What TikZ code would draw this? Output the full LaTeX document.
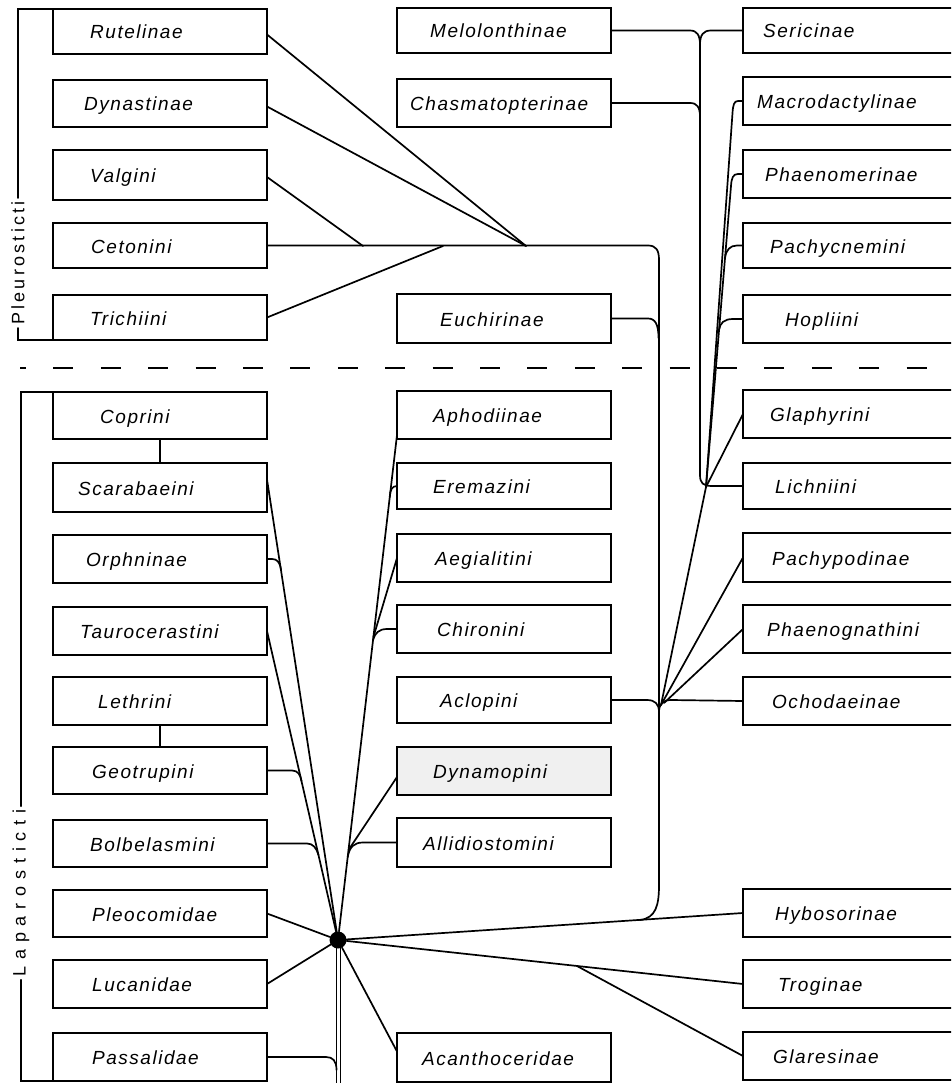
\documentclass[tikz,border=0pt]{standalone}
\usepackage{fontspec}
\usetikzlibrary{fit}
\newfontfamily\lblfont[LetterSpace=8]{Liberation Sans}
\newfontfamily\sidefont[LetterSpace=18]{Liberation Sans}
\newfontfamily\sidefontb[LetterSpace=38]{Liberation Sans}
\tikzset{
  box/.style={draw, line width=2.1pt, rectangle, inner sep=0pt, outer sep=0pt},
  lbl/.style={font=\lblfont\itshape\fontsize{19}{22}\selectfont, inner sep=0pt, anchor=base west},
  sidelbl/.style={font=\sidefont\fontsize{18}{20}\selectfont, inner sep=3pt},
  sidelblb/.style={font=\sidefontb\fontsize{18}{20}\selectfont, inner sep=3pt},
  conn/.style={line width=1.7pt, line cap=round},
  dot/.style={circle, fill=black, inner sep=0pt, minimum size=17pt},
  sepline/.style={line width=2pt, dash pattern=on 20pt off 27.4pt, dash phase=14pt}
}
\newcommand\taxbox[8]{%
  \node[box,#1, fit={(#3,#4) (#5,#6)}] (#2) {};
  \node[lbl] (t#2) at (#7,{(#4+#6)/2+7.5}) {#8};
}
\begin{document}
\begin{tikzpicture}[x=1pt,y=-1pt]
\useasboundingbox (0,0) rectangle (951,1083);
\clip (0,0) rectangle (951,1083);
\fill[white] (0,0) rectangle (951,1083);

% ---- left column
\taxbox{}{Rut}{53}{9}{267}{54}{90}{Rutelinae}
\taxbox{}{Dyn}{53}{80}{267}{127}{84}{Dynastinae}
\taxbox{}{Val}{53}{150}{267}{200}{90}{Valgini}
\taxbox{}{Cet}{53}{223}{267}{268}{91}{Cetonini}
\taxbox{}{Tri}{53}{295}{267}{340}{90}{Trichiini}
\taxbox{}{Cop}{53}{392}{267}{439}{100}{Coprini}
\taxbox{}{Sca}{53}{463}{267}{512}{78}{Scarabaeini}
\taxbox{}{Orp}{53}{535}{267}{583}{86}{Orphninae}
\taxbox{}{Tau}{53}{607}{267}{655}{80}{Taurocerastini}
\taxbox{}{Let}{53}{677}{267}{725}{98}{Lethrini}
\taxbox{}{Geo}{53}{747}{267}{794}{92}{Geotrupini}
\taxbox{}{Bol}{53}{820}{267}{867}{90}{Bolbelasmini}
\taxbox{}{Ple}{53}{890}{267}{937}{92}{Pleocomidae}
\taxbox{}{Luc}{53}{960}{267}{1008}{92}{Lucanidae}
\taxbox{}{Pas}{53}{1033}{267}{1081}{92}{Passalidae}

% ---- middle column
\taxbox{}{Mel}{397}{8}{611}{53}{430}{Melolonthinae}
\taxbox{}{Cha}{397}{79}{611}{127}{410}{Chasmatopterinae}
\taxbox{}{Euc}{397}{294}{611}{343}{440}{Euchirinae}
\taxbox{}{Aph}{397}{391}{611}{439}{433}{Aphodiinae}
\taxbox{}{Ere}{397}{463}{611}{509}{433}{Eremazini}
\taxbox{}{Aeg}{397}{534}{611}{582}{435}{Aegialitini}
\taxbox{}{Chi}{397}{605}{611}{653}{437}{Chironini}
\taxbox{}{Acl}{397}{677}{611}{723}{440}{Aclopini}
\taxbox{fill=black!6}{Dyp}{397}{747}{611}{795}{433}{Dynamopini}
\taxbox{}{All}{397}{818}{611}{867}{423}{Allidiostomini}
\taxbox{}{Aca}{397}{1033}{611}{1082}{422}{Acanthoceridae}

% ---- right column
\taxbox{}{Ser}{743}{8}{975}{53}{763}{Sericinae}
\taxbox{}{Mac}{743}{77}{975}{125}{757}{Macrodactylinae}
\taxbox{}{Phm}{743}{150}{975}{198}{765}{Phaenomerinae}
\taxbox{}{Pac}{743}{223}{975}{268}{770}{Pachycnemini}
\taxbox{}{Hop}{743}{295}{975}{343}{785}{Hopliini}
\taxbox{}{Gla}{743}{390}{975}{438}{770}{Glaphyrini}
\taxbox{}{Lic}{743}{463}{975}{509}{775}{Lichniini}
\taxbox{}{Pap}{743}{533}{975}{582}{772}{Pachypodinae}
\taxbox{}{Phg}{743}{605}{975}{653}{767}{Phaenognathini}
\taxbox{}{Och}{743}{677}{975}{725}{772}{Ochodaeinae}
\taxbox{}{Hyb}{743}{889}{975}{937}{775}{Hybosorinae}
\taxbox{}{Tro}{743}{960}{975}{1008}{778}{Troginae}
\taxbox{}{Glr}{743}{1032}{975}{1080}{773}{Glaresinae}

% ---- side brackets
\node[sidelbl, rotate=90] (PL) at (18,263) {Pleurosticti};
\draw[conn] (Rut.north west) -- (18,9) -- (PL.east);
\draw[conn] (PL.west) -- (18,340) -- (Tri.south west);
\node[sidelblb, rotate=90] (LA) at (21,893) {Laparosticti};
\draw[conn] (Cop.north west) -- (21,392) -- (LA.east);
\draw[conn] (LA.west) -- (21,1081) -- (Pas.south west);

% ---- separator
\coordinate (D1) at (20,368);
\coordinate (D2) at (960,368);
\draw[sepline] (D1) -- (D2);

% ---- key points
\node[dot] (C) at (338,940) {};
\coordinate (T1) at (526,246);
\coordinate (T2) at (363,246);
\coordinate (T3) at (443,246);
\coordinate (J1) at (706,487);
\coordinate (J2) at (661,705);
\coordinate (K1) at (640,920);
\coordinate (G0) at (577,966);
\coordinate (B1) at (336.5,1083);
\coordinate (B2) at (340.5,1083);

% ---- upper left group
\draw[conn] ([yshift=-3pt]Rut.east) -- (T1);
\draw[conn] ([yshift=-3pt]Dyn.east) -- (T1);
\draw[conn] ([yshift=-2pt]Val.east) -- (T2);
\draw[conn] (Tri.east) -- (T3);
\draw[conn] (Cet.east) -- (648,245.5) .. controls (656,245.5) and (659,250) .. (659,260)
   -- (659,885) .. controls (659,905) and (656,918) .. (K1);
\draw[conn] (Euc.east) -- (648,318.5) .. controls (655,318.5) and (658.5,324) .. (658.5,338);

% ---- Melolonthinae group
\draw[conn] (Mel.east) -- (690,30.5) .. controls (697,30.5) and (700,35) .. (700,45)
   -- (700,475) .. controls (700,483) and (703,486) .. (712,486) -- (Lic.west);
\draw[conn] (Ser.west) -- (711,30.5) .. controls (703,30.5) and (700,35) .. (700,45);
\draw[conn] (Cha.east) -- (690,103) .. controls (697,103) and (700,107) .. (700,117);
\draw[conn] (Mac.west) -- (738,101) .. controls (734,101) and (733,105) .. (732.5,113) -- (J1);
\draw[conn] (Phm.west) -- (738,174) .. controls (733,174) and (731.5,178) .. (731,186) -- (J1);
\draw[conn] (Pac.west) -- (737,245.5) .. controls (730,245.5) and (726,250) .. (725,258);
\draw[conn] (Hop.west) -- (733,319) .. controls (724,319) and (720,323) .. (719,330);
\draw[conn] (Gla.west) -- (J1) -- (J2);
\draw[conn] (Pap.west) -- (J2);
\draw[conn] (Phg.west) -- (664,703);
\draw[conn] (Acl.east) -- (647,700) .. controls (655,700) and (659,704) .. (659,712);
\draw[conn] (Och.west) -- (671,700) .. controls (663,700) and (659,704) .. (659,712);

% ---- lower left group
\draw[conn] (Cop.south) -- (Sca.north);
\draw[conn] (Let.south) -- (Geo.north);
\draw[conn] ([yshift=8pt]Sca.east) -- (C);
\draw[conn] (Orp.east) -- (272,559) .. controls (277,559) and (280,562) .. (281,570);
\draw[conn] (Tau.east) -- (C);
\draw[conn] (Geo.east) -- (292,770.5) .. controls (298,770.5) and (300.5,775) .. (301.5,781);
\draw[conn] (Bol.east) -- (307,843.5) .. controls (313,843.5) and (316.5,848) .. (318.5,855);
\draw[conn] (Ple.east) -- (C);
\draw[conn] (Luc.east) -- (C);
\draw[conn] (Pas.east) -- (326,1057) .. controls (333,1057) and (336.5,1061) .. (336.5,1070);
\draw[conn] ([xshift=-1.5pt]C.center) -- (B1);
\draw[conn] ([xshift=2.5pt]C.center) -- (B2);

% ---- lower middle group
\draw[conn] ([yshift=4pt]Aph.south west) -- (C);
\draw[conn] (Ere.west) .. controls (392,486) and (390,490) .. (389.8,497);
\draw[conn] (Aeg.west) -- (373.4,637);
\draw[conn] (Chi.west) -- (387,629) .. controls (379,629) and (375,633) .. (373,640);
\draw[conn] ([yshift=-6pt]Dyp.west) -- (348.5,850);
\draw[conn] (All.west) -- (363,842.5) .. controls (354,842.5) and (349.5,847) .. (347.7,857);
\draw[conn] (C) -- ([yshift=6pt]Aca.west);

% ---- lower right group
\draw[conn] (C) -- (Hyb.west);
\draw[conn] (C) -- (Tro.west);
\draw[conn] (G0) -- (Glr.west);
\end{tikzpicture}
\end{document}
